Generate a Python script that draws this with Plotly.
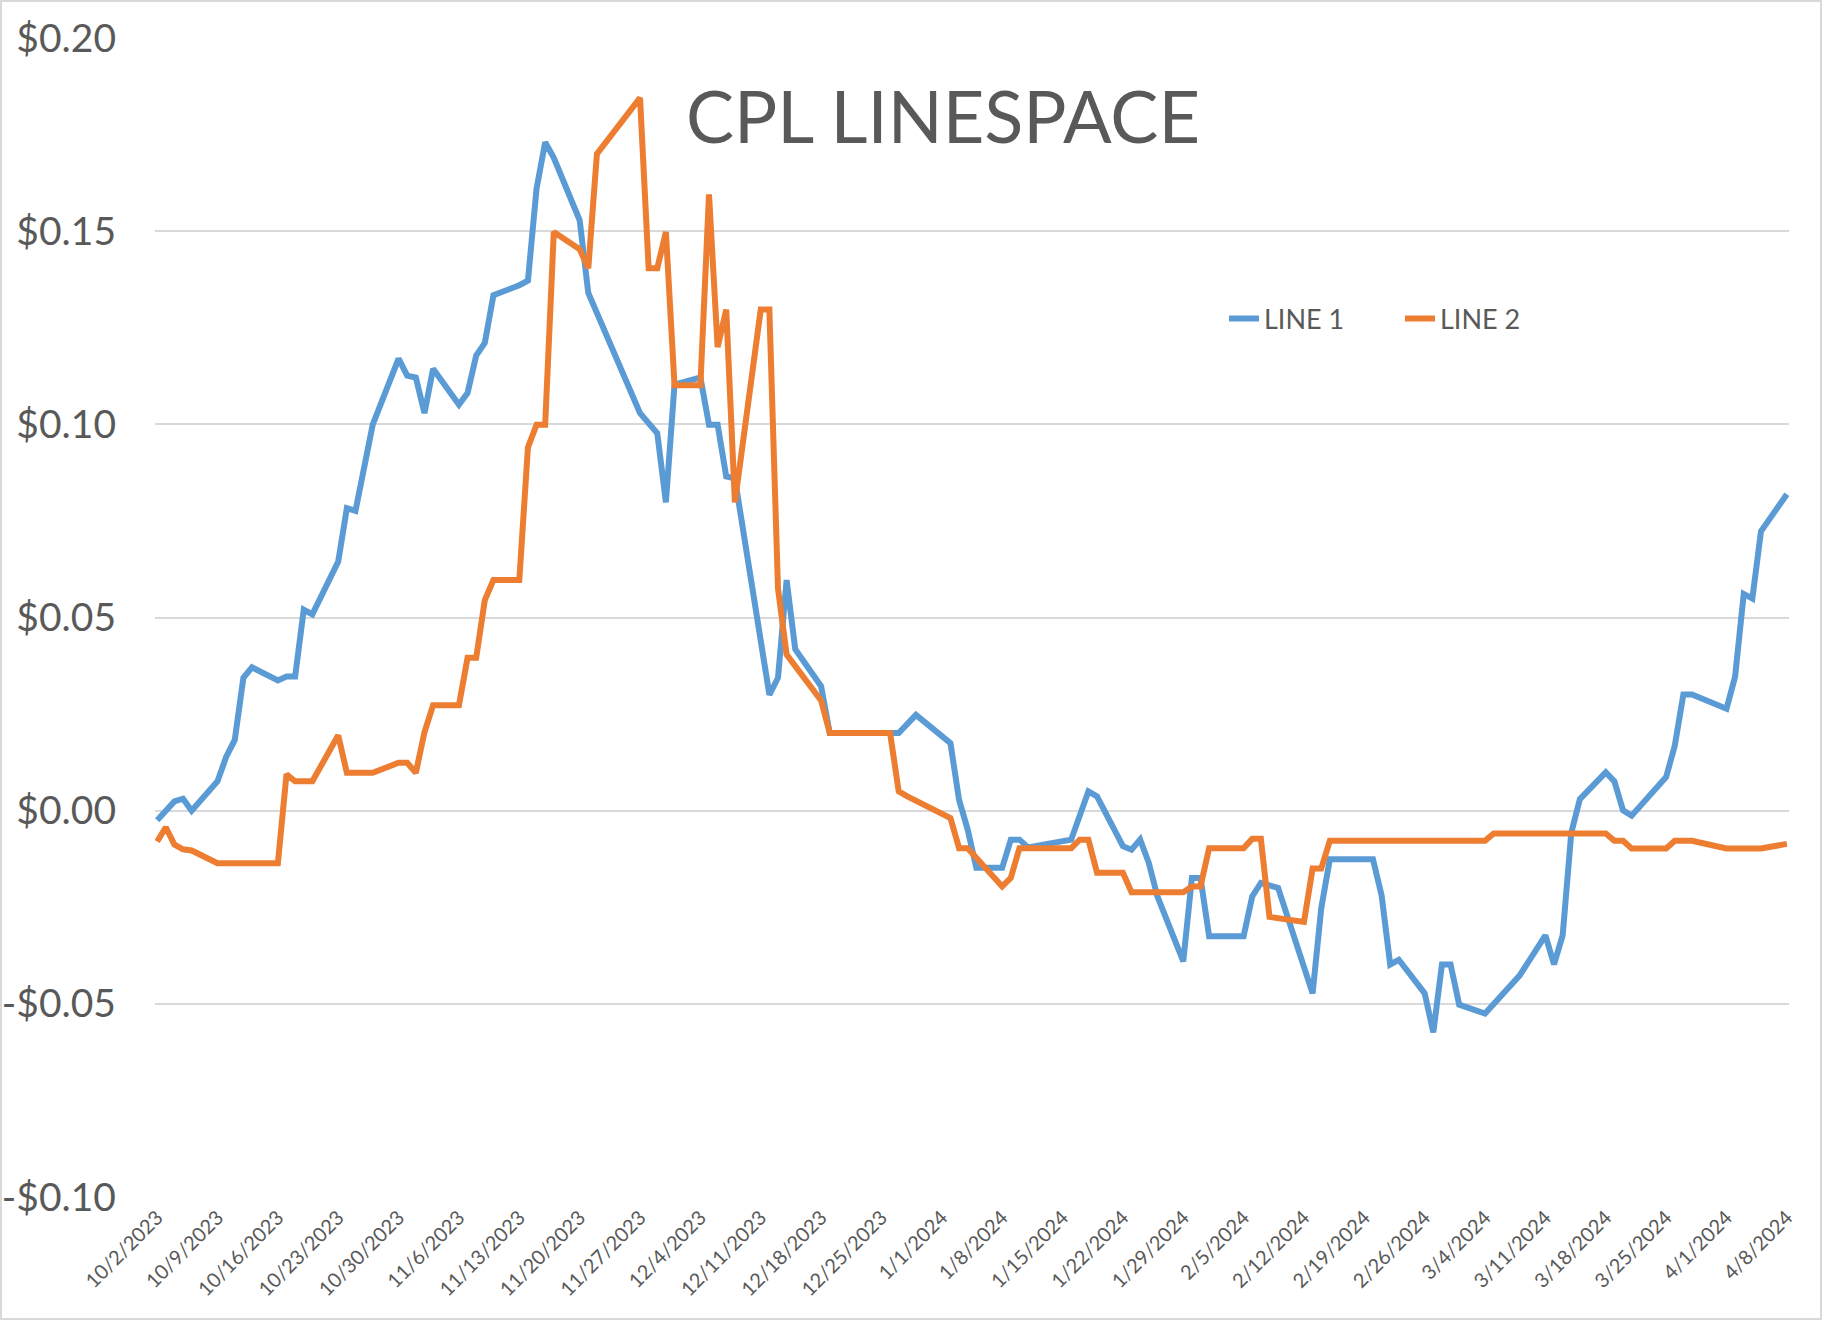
import plotly.graph_objects as go
from datetime import datetime

# ---------------- DATA ----------------
line1_dates = [
    "2023-10-02", "2023-10-04", "2023-10-05", "2023-10-06", "2023-10-09", "2023-10-10",
    "2023-10-11", "2023-10-12", "2023-10-13", "2023-10-16", "2023-10-17", "2023-10-18",
    "2023-10-19", "2023-10-20", "2023-10-23", "2023-10-24", "2023-10-25", "2023-10-27",
    "2023-10-30", "2023-10-31", "2023-11-01", "2023-11-02", "2023-11-03", "2023-11-06",
    "2023-11-07", "2023-11-08", "2023-11-09", "2023-11-10", "2023-11-13", "2023-11-14",
    "2023-11-15", "2023-11-16", "2023-11-17", "2023-11-20", "2023-11-21", "2023-11-27",
    "2023-11-29", "2023-11-30", "2023-12-01", "2023-12-04", "2023-12-05", "2023-12-06",
    "2023-12-07", "2023-12-08", "2023-12-12", "2023-12-13", "2023-12-14", "2023-12-15",
    "2023-12-18", "2023-12-19", "2023-12-27", "2023-12-29", "2024-01-02", "2024-01-03",
    "2024-01-04", "2024-01-05", "2024-01-08", "2024-01-09", "2024-01-10", "2024-01-11",
    "2024-01-16", "2024-01-18", "2024-01-19", "2024-01-22", "2024-01-23", "2024-01-24",
    "2024-01-25", "2024-01-26", "2024-01-29", "2024-01-30", "2024-01-31", "2024-02-01",
    "2024-02-05", "2024-02-06", "2024-02-07", "2024-02-09", "2024-02-13", "2024-02-14",
    "2024-02-15", "2024-02-20", "2024-02-21", "2024-02-22", "2024-02-23", "2024-02-26",
    "2024-02-27", "2024-02-28", "2024-02-29", "2024-03-01", "2024-03-04", "2024-03-08",
    "2024-03-11", "2024-03-12", "2024-03-13", "2024-03-14", "2024-03-15", "2024-03-18",
    "2024-03-19", "2024-03-20", "2024-03-21", "2024-03-25", "2024-03-26", "2024-03-27",
    "2024-03-28", "2024-04-01", "2024-04-02", "2024-04-03", "2024-04-04", "2024-04-05",
    "2024-04-08",
]
line1_values = [
    -0.0025, 0.0024, 0.0031, 0.0000, 0.0076, 0.0139,
    0.0183, 0.0344, 0.0371, 0.0337, 0.0347, 0.0347,
    0.0520, 0.0508, 0.0645, 0.0783, 0.0776, 0.0999,
    0.1170, 0.1126, 0.1121, 0.1029, 0.1144, 0.1051,
    0.1081, 0.1178, 0.1211, 0.1334, 0.1360, 0.1372,
    0.1610, 0.1730, 0.1690, 0.1528, 0.1340, 0.1029,
    0.0977, 0.0798, 0.1103, 0.1121, 0.0999, 0.0999,
    0.0865, 0.0860, 0.0300, 0.0344, 0.0597, 0.0418,
    0.0322, 0.0201, 0.0201, 0.0248, 0.0175, 0.0028,
    -0.0049, -0.0148, -0.0148, -0.0075, -0.0075, -0.0095,
    -0.0075, 0.0050, 0.0037, -0.0092, -0.0101, -0.0075,
    -0.0135, -0.0222, -0.0390, -0.0174, -0.0174, -0.0325,
    -0.0325, -0.0222, -0.0187, -0.0200, -0.0473, -0.0253,
    -0.0126, -0.0126, -0.0219, -0.0398, -0.0386, -0.0473,
    -0.0574, -0.0398, -0.0398, -0.0502, -0.0525, -0.0427,
    -0.0323, -0.0398, -0.0323, -0.0057, 0.0030, 0.0099,
    0.0076, 0.0001, -0.0013, 0.0087, 0.0168, 0.0301,
    0.0301, 0.0264, 0.0347, 0.0561, 0.0549, 0.0723,
    0.0819,
]

line2_dates = [
    "2023-10-02", "2023-10-03", "2023-10-04", "2023-10-05", "2023-10-06", "2023-10-09",
    "2023-10-16", "2023-10-17", "2023-10-18", "2023-10-20", "2023-10-23", "2023-10-24",
    "2023-10-27", "2023-10-30", "2023-10-31", "2023-11-01", "2023-11-02", "2023-11-03",
    "2023-11-06", "2023-11-07", "2023-11-08", "2023-11-09", "2023-11-10", "2023-11-13",
    "2023-11-14", "2023-11-15", "2023-11-16", "2023-11-17", "2023-11-20", "2023-11-21",
    "2023-11-22", "2023-11-27", "2023-11-28", "2023-11-29", "2023-11-30", "2023-12-01",
    "2023-12-04", "2023-12-05", "2023-12-06", "2023-12-07", "2023-12-08", "2023-12-11",
    "2023-12-12", "2023-12-13", "2023-12-14", "2023-12-18", "2023-12-19", "2023-12-26",
    "2023-12-27", "2023-12-28", "2024-01-02", "2024-01-03", "2024-01-04", "2024-01-08",
    "2024-01-09", "2024-01-10", "2024-01-16", "2024-01-17", "2024-01-18", "2024-01-19",
    "2024-01-22", "2024-01-23", "2024-01-29", "2024-01-30", "2024-01-31", "2024-02-01",
    "2024-02-05", "2024-02-06", "2024-02-07", "2024-02-08", "2024-02-12", "2024-02-13",
    "2024-02-14", "2024-02-15", "2024-03-04", "2024-03-05", "2024-03-18", "2024-03-19",
    "2024-03-20", "2024-03-21", "2024-03-25", "2024-03-26", "2024-03-28", "2024-04-01",
    "2024-04-05", "2024-04-08",
]
line2_values = [
    -0.0080, -0.0043, -0.0088, -0.0100, -0.0103, -0.0136,
    -0.0136, 0.0094, 0.0076, 0.0076, 0.0195, 0.0098,
    0.0098, 0.0124, 0.0124, 0.0098, 0.0203, 0.0273,
    0.0273, 0.0396, 0.0396, 0.0545, 0.0597, 0.0597,
    0.0940, 0.0999, 0.0999, 0.1498, 0.1453, 0.1404,
    0.1700, 0.1845, 0.1404, 0.1404, 0.1498, 0.1101,
    0.1101, 0.1595, 0.1200, 0.1297, 0.0798, 0.1297,
    0.1297, 0.0575, 0.0404, 0.0285, 0.0201, 0.0201,
    0.0050, 0.0037, -0.0019, -0.0097, -0.0097, -0.0196,
    -0.0174, -0.0097, -0.0097, -0.0075, -0.0075, -0.0161,
    -0.0161, -0.0211, -0.0211, -0.0196, -0.0196, -0.0097,
    -0.0097, -0.0073, -0.0073, -0.0275, -0.0288, -0.0150,
    -0.0150, -0.0078, -0.0078, -0.0059, -0.0059, -0.0078,
    -0.0078, -0.0098, -0.0098, -0.0078, -0.0078, -0.0098,
    -0.0098, -0.0086,
]

x_tick_labels = [
    "10/2/2023", "10/9/2023", "10/16/2023", "10/23/2023", "10/30/2023", "11/6/2023",
    "11/13/2023", "11/20/2023", "11/27/2023", "12/4/2023", "12/11/2023", "12/18/2023",
    "12/25/2023", "1/1/2024", "1/8/2024", "1/15/2024", "1/22/2024", "1/29/2024",
    "2/5/2024", "2/12/2024", "2/19/2024", "2/26/2024", "3/4/2024", "3/11/2024",
    "3/18/2024", "3/25/2024", "4/1/2024", "4/8/2024",
]
y_tick_values = [-0.10, -0.05, 0.00, 0.05, 0.10, 0.15, 0.20]
y_tick_labels = ["-$0.10", "-$0.05", "$0.00", "$0.05", "$0.10", "$0.15", "$0.20"]

series_names = ["LINE 1", "LINE 2"]
title_text = "CPL LINESPACE"

# ---------------- STYLE ----------------
W, H = 1822, 1320
ML, MR, MT, MB = 155, 33, 38, 123
PW, PH = W - ML - MR, H - MT - MB
TEXT = "#595959"
GRID = "#D9D9D9"
FONT = "Lato, 'Open Sans', sans-serif"
BLUE = "#5B9BD5"
ORANGE = "#ED7D31"

x_tick_vals = [datetime.strptime(t, "%m/%d/%Y").strftime("%Y-%m-%d") for t in x_tick_labels]

fig = go.Figure()
fig.add_trace(go.Scatter(x=line1_dates, y=line1_values, mode="lines", name=series_names[0],
                         line=dict(color=BLUE, width=6)))
fig.add_trace(go.Scatter(x=line2_dates, y=line2_values, mode="lines", name=series_names[1],
                         line=dict(color=ORANGE, width=6)))

fig.update_layout(
    width=W, height=H,
    margin=dict(l=ML, r=MR, t=MT, b=MB, pad=0, autoexpand=False),
    paper_bgcolor="white", plot_bgcolor="white",
    font=dict(family=FONT, color=TEXT),
    showlegend=True,
    legend=dict(orientation="h", x=(1224 - ML) / PW, y=1 - (319 - MT) / PH,
                xanchor="left", yanchor="middle", font=dict(size=27, color=TEXT),
                bgcolor="rgba(0,0,0,0)", itemwidth=30, tracegroupgap=0,
                entrywidth=131, entrywidthmode="pixels"),
    xaxis=dict(
        type="date", automargin=False,
        range=["2023-10-01 18:00", "2024-04-08 06:00"],
        tickmode="array", tickvals=x_tick_vals, ticktext=x_tick_labels,
        tickangle=-45, tickfont=dict(size=20, color=TEXT),
        showgrid=False, zeroline=False, showline=False, ticks="",
        ticklabelstandoff=4,
    ),
    yaxis=dict(
        range=[-0.10, 0.20], automargin=False,
        tickmode="array", tickvals=y_tick_values, ticktext=y_tick_labels,
        tickfont=dict(size=39, color=TEXT),
        showgrid=True, gridcolor=GRID, gridwidth=1.5,
        zeroline=False, showline=False, ticks="",
        ticklabelstandoff=38,
    ),
    annotations=[dict(
        text=title_text, xref="paper", yref="paper",
        x=(943 - ML) / PW, y=1 - (115 - MT) / PH,
        xanchor="center", yanchor="middle", showarrow=False,
        font=dict(size=72, color=TEXT, family=FONT),
    )],
    shapes=[dict(
        type="rect", xref="paper", yref="paper", layer="above",
        x0=(1 - ML) / PW, x1=(W - 1 - ML) / PW,
        y0=1 - (H - 1 - MT) / PH, y1=1 - (1 - MT) / PH,
        line=dict(color=GRID, width=2), fillcolor="rgba(0,0,0,0)",
    )],
)

fig.write_html("out.html", config={"displayModeBar": False},
               post_script="document.body.style.margin='0';document.body.style.overflow='hidden';")
